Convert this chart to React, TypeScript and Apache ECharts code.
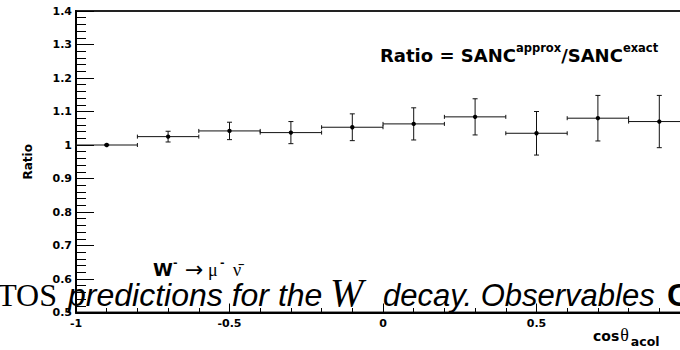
import React, { useEffect, useRef } from "react";
import * as echarts from "echarts";

// ---- data ----
const binEdges = [-1, -0.8, -0.6, -0.4, -0.2, 0, 0.2, 0.4, 0.6, 0.8, 1];
const ratios = [1.0, 1.025, 1.042, 1.037, 1.053, 1.063, 1.084, 1.035, 1.08, 1.07];
const ratioErrors = [0.002, 0.016, 0.026, 0.033, 0.04, 0.048, 0.054, 0.065, 0.068, 0.078];

const titleMain1 = "Ratio = SANC";
const titleSup1 = "approx";
const titleMain2 = "/SANC";
const titleSup2 = "exact";
const yTitle = "Ratio";

const ROOT_FONT = '"DejaVu Sans"';
const SERIF = '"Liberation Serif", "DejaVu Serif"';
const SANS = '"Liberation Sans"';

let measureCtx: CanvasRenderingContext2D | null = null;
function textWidth(t: string, font: string) {
  if (!measureCtx) measureCtx = document.createElement("canvas").getContext("2d");
  measureCtx!.font = font;
  return measureCtx!.measureText(t).width;
}

type Run = { t: string; size: number; family: string; weight?: string; style?: string; dy?: number; dx?: number; x?: number };

function mkFont(r: Run) {
  return `${r.style || "normal"} ${r.weight || "normal"} ${r.size}px ${r.family}`;
}

function textEl(x: number, baseline: number, r: Run, align: string = "left") {
  const font = mkFont(r);
  return {
    type: "text",
    x,
    y: baseline + (r.dy || 0) - 0.345 * r.size,
    z: 100,
    silent: true,
    style: {
      text: r.t,
      fill: "#000",
      font,
      align,
      verticalAlign: "middle",
      textAlign: align,
      textVerticalAlign: "middle",
    },
  };
}

function seq(x0: number, baseline: number, runs: Run[]) {
  let x = x0;
  const out: any[] = [];
  for (const r of runs) {
    if (r.x !== undefined) x = r.x;
    x += r.dx || 0;
    out.push(textEl(x, baseline, r));
    x += textWidth(r.t, mkFont(r));
  }
  return out;
}

export default function App() {
  const ref = useRef<HTMLDivElement>(null);

  useEffect(() => {
    if (!ref.current) return;
    const chart = echarts.init(ref.current, undefined, { renderer: "svg" });

    const data = ratios.map((r, i) => [
      (binEdges[i] + binEdges[i + 1]) / 2,
      r,
      ratioErrors[i],
      binEdges[i],
      binEdges[i + 1],
    ]);

    const graphics: any[] = [];
    // title
    graphics.push(
      ...seq(380, 62, [
        { t: titleMain1, size: 18, family: ROOT_FONT, weight: "bold" },
        { t: titleSup1, size: 11.5, family: ROOT_FONT, weight: "bold", dy: -10 },
        { t: titleMain2, size: 18, family: ROOT_FONT, weight: "bold" },
        { t: titleSup2, size: 11.5, family: ROOT_FONT, weight: "bold", dy: -10 },
      ])
    );
    // process label
    graphics.push(
      ...seq(153, 276, [
        { t: "W", size: 18, family: ROOT_FONT, weight: "bold" },
        { t: "-", size: 11, family: ROOT_FONT, weight: "bold", dy: -10, x: 173 },
        { t: "\u2192", size: 22, family: '"DejaVu Sans"', x: 185, dy: 1 },
        { t: "\u03bc", size: 18, family: SERIF, x: 208 },
        { t: "-", size: 11, family: ROOT_FONT, weight: "bold", dy: -10, x: 220 },
        { t: "\u03bd\u0304", size: 18, family: SERIF, x: 233 },
      ])
    );
    // x axis title
    graphics.push(
      ...seq(593, 341, [
        { t: "cos", size: 14, family: ROOT_FONT, weight: "bold" },
        { t: "\u03b8", size: 18, family: SERIF, dx: 1 },
        { t: "acol", size: 12.5, family: ROOT_FONT, weight: "bold", dy: 5, dx: 2 },
      ])
    );
    // overlapping page text
    graphics.push(textEl(57, 306, { t: "PHOTOS", size: 32, family: SERIF }, "right"));
    graphics.push(...seq(68, 306, [{ t: "predictions for the", size: 32, family: SANS, style: "italic" }]));
    graphics.push(...seq(330, 306, [{ t: "W", size: 40, family: SERIF, style: "italic" }]));
    graphics.push(...seq(383, 306, [{ t: "decay. Observables", size: 31, family: SANS, style: "italic" }]));
    graphics.push(...seq(667, 306, [{ t: "C", size: 32, family: SANS, weight: "bold" }]));

    const labelStyle = {
      fontFamily: ROOT_FONT,
      fontWeight: "bold" as const,
      fontSize: 11,
      color: "#000",
    };

    chart.setOption({
      animation: false,
      backgroundColor: "#fff",
      grid: {
        left: 76,
        top: 11,
        width: 614,
        height: 301.5,
        containLabel: false,
        outerBoundsMode: "none",
        show: true,
        borderColor: "#222",
        borderWidth: 2,
        backgroundColor: "transparent",
      },
      xAxis: {
        type: "value",
        min: -1,
        max: 1,
        interval: 0.5,
        axisLine: { onZero: false, lineStyle: { color: "#000", width: 2 } },
        axisTick: { inside: true, length: 9, lineStyle: { color: "#000", width: 1 } },
        minorTick: { show: true, splitNumber: 5, length: 4.5, lineStyle: { color: "#000", width: 1 } },
        splitLine: { show: false },
        minorSplitLine: { show: false },
        axisLabel: { ...labelStyle, margin: 5, showMaxLabel: false },
      },
      yAxis: {
        type: "value",
        min: 0.5,
        max: 1.4,
        interval: 0.1,
        name: yTitle,
        nameLocation: "middle",
        nameGap: 42,
        nameTextStyle: { fontFamily: ROOT_FONT, fontWeight: "bold", fontSize: 12, color: "#000" },
        axisLine: { onZero: false, lineStyle: { color: "#000", width: 2 } },
        axisTick: { inside: true, length: 18, lineStyle: { color: "#000", width: 1 } },
        minorTick: { show: true, splitNumber: 5, length: 10, lineStyle: { color: "#000", width: 1 } },
        splitLine: { show: false },
        minorSplitLine: { show: false },
        axisLabel: { ...labelStyle, margin: 4 },
      },
      graphic: graphics,
      series: [
        {
          type: "custom",
          clip: false,
          data,
          encode: { x: 0, y: 1 },
          renderItem: (params: any, api: any) => {
            const x = api.value(0);
            const y = api.value(1);
            const e = api.value(2);
            const lo = api.value(3);
            const hi = api.value(4);
            const c = api.coord([x, y]);
            const l = api.coord([lo, y]);
            const r = api.coord([hi, y]);
            const t = api.coord([x, y + e]);
            const b = api.coord([x, y - e]);
            const ls = { stroke: "#111", lineWidth: 1 };
            const cap = 2.5;
            return {
              type: "group",
              children: [
                { type: "line", shape: { x1: l[0], y1: l[1], x2: r[0], y2: r[1] }, style: ls },
                { type: "line", shape: { x1: l[0], y1: l[1] - 2, x2: l[0], y2: l[1] + 2 }, style: ls },
                { type: "line", shape: { x1: r[0], y1: r[1] - 2, x2: r[0], y2: r[1] + 2 }, style: ls },
                { type: "line", shape: { x1: t[0], y1: t[1], x2: b[0], y2: b[1] }, style: ls },
                { type: "line", shape: { x1: t[0] - cap, y1: t[1], x2: t[0] + cap, y2: t[1] }, style: ls },
                { type: "line", shape: { x1: b[0] - cap, y1: b[1], x2: b[0] + cap, y2: b[1] }, style: ls },
                { type: "circle", shape: { cx: c[0], cy: c[1], r: 2.2 }, style: { fill: "#000" } },
              ],
            };
          },
        },
      ],
    });

    return () => chart.dispose();
  }, []);

  return (
    <div
      ref={ref}
      style={{ position: "absolute", left: 0, top: 0, width: 680, height: 350, background: "#fff" }}
    />
  );
}
